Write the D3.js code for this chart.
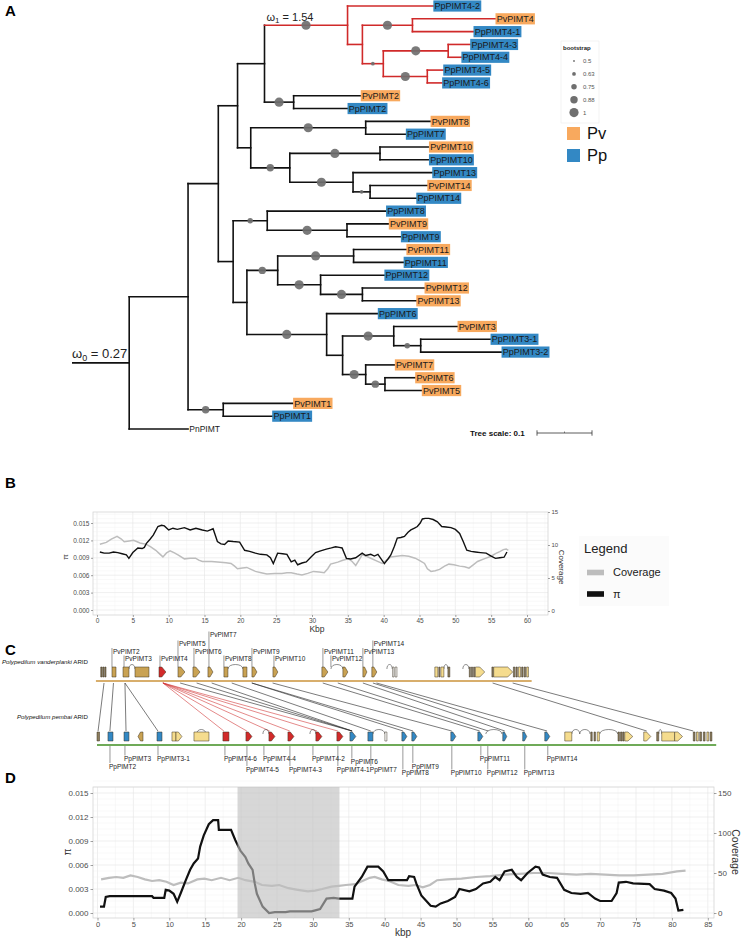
<!DOCTYPE html>
<html><head><meta charset="utf-8"><title>PIMT figure</title>
<script src="https://cdn.jsdelivr.net/npm/d3@7/dist/d3.min.js"></script>
<style>body{margin:0;background:#fff}</style></head>
<body><script>
// ================= DATA =================
// Panel A: phylogeny (branch lengths in substitutions/site, internal labels = bootstrap)
const cladeRed = "(PpPIMT4-2:0.156,((PvPIMT4:0.151,PpPIMT4-1:0.111)1:0.091,((PpPIMT4-3:0.040,PpPIMT4-4:0.024)1:0.118,(PpPIMT4-5:0.029,PpPIMT4-6:0.027)1:0.080)0.63:0.038):0.027)1";
const clade2 = "(PvPIMT2:0.122,PpPIMT2:0.098)1";
const clade7_14 = "((PvPIMT8:0.118,PpPIMT7:0.073)1:0.209,((PvPIMT10:0.089,PpPIMT10:0.089)1:0.164,(PpPIMT13:0.144,(PvPIMT14:0.104,PpPIMT14:0.084)0.63:0.031)1:0.115)0.88:0.071)";
const clade8_9 = "(PpPIMT8:0.216,(PvPIMT9:0.076,PpPIMT9:0.098)1:0.145)0.75";
const clade11_13 = "((PvPIMT11:0.096,PpPIMT11:0.091)1:0.138,(PpPIMT12:0.116,(PvPIMT12:0.113,PvPIMT13:0.098)1:0.076)1:0.078)0.88";
const clade3_6 = "(PpPIMT6:0.093,((PvPIMT3:0.116,(PpPIMT3-1:0.127,PpPIMT3-2:0.147)0.75:0.049)1:0.093,(PvPIMT7:0.053,(PvPIMT6:0.055,PvPIMT5:0.067)0.88:0.035)1:0.042):0.029)1";
const clade1 = "(PvPIMT1:0.127,PpPIMT1:0.089)0.88";
const treeNewick = `(((((${cladeRed}:0.151,${clade2}:0.053):0.049,${clade7_14}:0.024):0.035,(${clade8_9}:0.062,(${clade11_13}:0.056,${clade3_6}:0.145):0.025):0.027):0.055,${clade1}:0.064):0.107,PnPIMT:0.107):0.104;`;
const bootstrapLegend = [0.5, 0.63, 0.75, 0.88, 1];
const speciesLegend = ["Pv", "Pp"];
const omega1 = "1.54", omega0 = "0.27";

// Panel B: Pv ARID (kbp, pi) and (kbp, coverage)
const piB = [[0.4,0.0100],[1.0,0.0098],[1.7,0.0098],[2.3,0.0100],[2.9,0.0099],[3.5,0.0097],[4.1,0.0095],[4.45,0.0089],[5.0,0.0099],[5.7,0.0107],[6.3,0.0106],[6.6,0.0108],[6.9,0.0115],[7.4,0.0122],[7.85,0.0129],[8.5,0.0144],[9.0,0.0146],[9.4,0.0145],[10.0,0.0138],[10.6,0.0141],[11.2,0.0139],[12.2,0.0142],[13.0,0.0138],[13.8,0.0141],[14.7,0.0138],[15.4,0.0136],[16.2,0.0140],[16.8,0.0118],[17.3,0.0114],[17.8,0.0113],[18.3,0.0119],[19.0,0.0118],[19.9,0.0117],[20.6,0.0103],[21.3,0.0101],[22.1,0.0098],[22.8,0.0096],[23.7,0.0095],[24.2,0.0090],[24.6,0.0080],[25.2,0.0098],[25.9,0.0097],[26.5,0.0096],[27.1,0.0083],[27.6,0.0086],[28.0,0.0078],[28.6,0.0081],[29.2,0.0083],[29.9,0.0092],[30.5,0.0099],[31.2,0.0102],[32.0,0.0105],[32.7,0.0107],[33.3,0.0109],[33.8,0.0108],[34.2,0.0107],[34.8,0.0089],[35.4,0.0088],[36.1,0.0090],[37.0,0.0098],[37.5,0.0094],[38.2,0.0096],[38.7,0.0093],[39.2,0.0096],[40.1,0.0080],[40.6,0.0088],[41.0,0.0095],[41.5,0.0110],[41.9,0.0124],[42.4,0.0125],[42.9,0.0127],[43.4,0.0134],[43.8,0.0138],[44.3,0.0141],[44.7,0.0144],[45.1,0.0150],[45.4,0.0157],[45.8,0.0158],[46.3,0.0158],[46.9,0.0156],[47.5,0.0152],[48.1,0.0144],[48.7,0.0143],[49.4,0.0142],[50.0,0.0139],[50.6,0.0132],[51.1,0.0118],[51.6,0.0103],[52.2,0.0101],[52.8,0.0100],[53.5,0.0099],[54.3,0.0098],[55.0,0.0093],[55.6,0.0089],[56.2,0.0090],[56.8,0.0091],[57.2,0.0100]];
const covB = [[0.4,10.1],[1.3,10.4],[2.0,10.9],[2.8,11.3],[3.4,10.9],[3.8,10.5],[4.5,10.6],[5.1,10.7],[5.6,10.5],[6.0,10.3],[6.9,10.1],[7.5,9.7],[8.2,9.2],[8.7,8.7],[9.2,8.2],[9.7,8.8],[10.2,9.1],[10.8,8.8],[11.3,8.5],[12.2,7.9],[13.0,8.0],[13.75,8.0],[14.2,7.7],[14.7,7.5],[16.0,7.5],[17.2,7.4],[18.0,7.3],[18.7,7.2],[19.2,6.8],[19.6,6.4],[20.3,6.5],[20.9,6.6],[21.5,6.3],[22.1,6.0],[22.9,5.8],[23.7,5.6],[24.8,5.7],[25.8,5.7],[26.5,5.8],[27.1,5.8],[27.9,5.6],[28.6,5.45],[29.4,5.7],[30.2,6.0],[31.0,5.9],[31.7,5.8],[32.2,6.4],[32.6,7.1],[33.6,7.4],[34.3,7.7],[35.1,7.9],[35.6,7.5],[36.1,6.9],[36.6,7.8],[37.0,8.5],[37.6,8.3],[38.2,8.0],[39.0,7.6],[39.8,7.2],[40.4,7.7],[41.0,8.2],[41.8,8.3],[42.6,8.4],[43.5,8.3],[44.4,8.0],[45.1,7.6],[45.7,7.2],[46.1,6.4],[46.6,6.0],[47.2,6.1],[47.8,6.3],[48.5,6.8],[49.1,7.1],[49.8,7.0],[50.6,6.8],[51.3,6.7],[51.9,6.5],[52.5,7.0],[53.1,7.5],[54.0,7.9],[55.0,8.3],[55.6,8.7],[56.2,9.0],[56.7,9.3],[57.1,9.4],[57.4,9.2]];
const piTicks = [0, 0.003, 0.006, 0.009, 0.012, 0.015];
const covTicksB = [0, 5, 10, 15];
const kbpTicksB = [0,5,10,15,20,25,30,35,40,45,50,55,60];

// Panel C: gene models, kbp along each ARID  [start, end, shape, class]
const topGenes = [[0.52,0.70,"box","dark"],[0.80,0.98,"box","dark"],[1.08,1.26,"box","dark"],[2.09,2.65,"box","pimt"],[3.63,4.46,"box","pimt"],[5.30,7.25,"box","pimt"],[8.65,9.62,"arrow","red"],[11.30,12.27,"arrow","pimt"],[13.39,14.37,"arrow","pimt"],[15.48,16.18,"arrow","pimt"],[17.71,18.27,"box","pimt"],[20.36,20.92,"box","pimt"],[21.62,22.32,"arrow","pimt"],[24.55,25.24,"arrow","pimt"],[31.38,32.22,"arrow","pimt"],[34.31,35.01,"arrow","pimt"],[37.10,37.66,"arrow","pimt"],[38.35,39.05,"arrow","pimt"],[41.25,41.45,"box","white"],[41.6,41.85,"box","white"],[47.14,47.56,"box","other"],[47.70,47.84,"box","dark"],[47.98,48.40,"box","other"],[48.96,49.23,"box","dark"],[51.95,52.10,"box","dark"],[52.25,52.40,"box","dark"],[52.55,52.70,"box","dark"],[52.80,54.10,"arrow","other"],[55.10,55.30,"box","dark"],[55.35,58.00,"arrow","other"],[58.10,58.30,"box","dark"],[58.45,58.65,"box","dark"],[58.80,59.10,"box","other"],[59.25,59.45,"box","dark"],[59.60,59.80,"box","dark"],[59.95,60.20,"box","other"]];
const topArcs = [[4.46,5.30],[18.27,20.36],[32.64,34.31],[40.45,41.2],[48.40,48.96],[51.05,51.9]];
const botGenes = [[0.0,0.35,"box","dark"],[1.53,2.23,"box","pimt"],[3.77,4.46,"box","pimt"],[5.72,6.42,"larrow","tan"],[8.37,9.07,"box","pimt"],[10.46,11.02,"box","other"],[11.02,11.85,"arrow","other"],[13.53,15.62,"box","other"],[17.57,18.41,"box","red"],[20.78,21.62,"arrow","red"],[23.99,24.83,"arrow","red"],[26.64,27.48,"arrow","red"],[30.54,31.38,"arrow","red"],[33.47,34.31,"arrow","red"],[35.29,36.12,"arrow","pimt"],[37.80,38.50,"box","pimt"],[40.17,40.45,"box","white"],[42.54,43.24,"arrow","pimt"],[43.93,44.63,"arrow","pimt"],[49.37,50.07,"arrow","pimt"],[53.14,53.84,"arrow","pimt"],[56.62,57.18,"arrow","pimt"],[59.40,59.97,"arrow","pimt"],[62.48,63.18,"arrow","pimt"],[65.27,66.25,"box","other"],[68.9,69.1,"box","dark"],[69.35,69.55,"box","dark"],[69.8,70.1,"box","other"],[72.7,72.9,"box","dark"],[73.05,73.25,"box","dark"],[73.35,73.55,"box","dark"],[73.64,74.76,"arrow","other"],[76.29,77.27,"arrow","other"],[78.10,78.38,"box","dark"],[78.80,80.60,"box","other"],[80.60,81.70,"arrow","other"],[83.2,83.45,"box","dark"],[83.65,83.9,"box","other"],[84.1,84.35,"box","dark"],[84.6,84.85,"box","dark"],[85.1,85.35,"box","other"],[85.55,85.8,"box","dark"]];
const botArcs = [[13.9,15.2],[23.15,23.99],[29.71,30.54],[38.5,40.17],[54.25,56.5],[66.25,67.36],[67.36,68.8],[70.15,72.66],[78.38,78.8]];
// [Pv kbp, Pp kbp, expanded-family flag]
const synteny = [[0.98,0.15,0],[2.3,1.8,0],[3.9,4.05,0],[3.9,8.5,0],[9.2,17.7,1],[9.2,20.9,1],[9.2,24.1,1],[9.2,26.9,1],[9.2,30.7,1],[9.2,33.6,1],[11.6,35.6,0],[13.9,35.6,0],[16.0,35.6,0],[18.8,38.2,0],[21.6,42.7,0],[21.6,44.1,0],[24.5,49.5,0],[31.5,53.4,0],[33.6,54.6,0],[37.1,56.9,0],[38.5,59.7,0],[39.0,62.8,0],[55.2,76.7,0],[58.0,83.2,0]];
// [label, anchor kbp, stacking level]
const topLabels = [["PvPIMT2",2.09,1],["PvPIMT3",3.77,0],["PvPIMT4",8.79,0],["PvPIMT5",11.3,2],["PvPIMT6",13.53,1],["PvPIMT7",15.62,3],["PvPIMT8",17.71,0],["PvPIMT9",21.62,1],["PvPIMT10",24.69,0],["PvPIMT11",31.52,1],["PvPIMT12",32.64,0],["PvPIMT13",37.1,1],["PvPIMT14",38.49,2]];
const botLabels = [["PpPIMT2",1.81,2],["PpPIMT3",3.9,0],["PpPIMT3-1",8.51,0],["PpPIMT4-6",17.85,0],["PpPIMT4-5",20.92,3],["PpPIMT4-4",23.29,0],["PpPIMT4-3",26.92,3],["PpPIMT4-2",30.13,0],["PpPIMT4-1",33.61,3],["PpPIMT6",35.56,1],["PpPIMT7",38.21,3],["PpPIMT8",42.68,4],["PpPIMT9",44.07,2],["PpPIMT10",49.51,4],["PpPIMT11",53.56,0],["PpPIMT12",54.53,4],["PpPIMT13",59.69,4],["PpPIMT14",62.9,0]];

// Panel D: Pp ARID
const piD = [[0.35,0.0008],[0.9,0.0008],[1.15,0.0020],[1.7,0.0021],[7.6,0.0021],[7.8,0.0019],[9.3,0.0019],[9.5,0.0029],[10.0,0.0028],[10.6,0.0024],[11.1,0.0014],[11.6,0.0025],[12.3,0.0041],[12.9,0.0054],[13.4,0.0062],[14.0,0.0068],[14.3,0.0083],[14.8,0.0097],[15.5,0.0111],[16.1,0.0116],[16.8,0.0116],[16.9,0.0104],[18.6,0.0104],[19.2,0.0091],[19.9,0.0078],[20.6,0.0070],[21.0,0.0062],[21.6,0.0054],[21.9,0.0037],[22.2,0.0024],[23.0,0.0008],[23.9,0.0000],[24.7,0.0001],[26.2,0.0001],[26.8,0.0002],[29.8,0.0002],[30.2,0.0003],[31.0,0.0005],[31.9,0.0018],[32.9,0.0019],[33.6,0.0018],[35.5,0.0018],[35.8,0.0033],[36.8,0.0045],[37.6,0.0058],[39.1,0.0058],[39.8,0.0052],[40.5,0.0041],[43.1,0.0041],[43.4,0.0046],[44.1,0.0045],[44.4,0.0037],[45.1,0.0022],[45.8,0.0015],[46.4,0.0009],[47.1,0.0008],[47.8,0.0012],[48.8,0.0015],[49.8,0.0020],[50.4,0.0030],[51.8,0.0027],[52.7,0.0030],[53.7,0.0037],[54.7,0.0039],[55.4,0.0045],[56.0,0.0041],[56.7,0.0052],[57.7,0.0054],[58.4,0.0045],[59.0,0.0041],[59.9,0.0050],[61.0,0.0058],[61.5,0.0057],[62.0,0.0048],[63.0,0.0045],[64.0,0.0044],[65.0,0.0029],[66.0,0.0025],[67.3,0.0024],[68.3,0.0025],[69.3,0.0018],[70.0,0.0015],[71.6,0.0015],[72.3,0.0025],[72.6,0.0038],[73.6,0.0039],[74.6,0.0037],[76.9,0.0036],[77.6,0.0030],[78.9,0.0028],[79.9,0.0025],[80.5,0.0018],[80.9,0.0003],[81.6,0.0004]];
const covD = [[0.5,42],[1.6,44],[2.6,45],[3.6,44],[4.6,47],[5.6,45],[6.6,42],[7.6,40],[8.6,41],[9.6,39],[10.6,35],[11.6,38],[12.6,37],[13.9,42],[14.9,43],[15.9,41],[17.2,44],[18.4,41],[19.6,44],[20.6,41],[21.9,39],[22.9,35],[24.3,34],[25.3,35],[26.6,31],[27.9,29],[29.3,27],[30.3,28],[31.3,30],[32.6,33],[33.6,34],[34.6,35],[35.9,36],[36.9,40],[37.9,44],[38.6,45],[39.6,42],[40.6,40],[41.9,35],[43.3,34],[44.3,35],[45.3,32],[46.3,35],[47.3,41],[48.7,42],[50.7,43],[52.7,45],[54.7,46],[56.7,48],[58.7,49],[60.7,50],[62.7,50],[64.7,49],[66.7,48],[68.7,49],[70.7,48],[72.7,47],[74.7,47],[76.7,48],[78.7,49],[80.7,52],[81.9,53]];
const shadeD = [19.5, 33.7];
const covTicksD = [0, 50, 100, 150];
const kbpTicksD = [0,5,10,15,20,25,30,35,40,45,50,55,60,65,70,75,80,85];

// ================= DRAWING =================
const W = 743, H = 939;
const FONT = '"Liberation Sans", Arial, Helvetica, sans-serif';
const NARROW = '"Liberation Sans Narrow", "Liberation Sans", Arial, sans-serif';
const ORANGE = "#F8A95E", BLUE = "#3388C4";
const svg = d3.select("body").append("svg").attr("width", W).attr("height", H)
  .style("font-family", FONT);

[["A",5,16],["B",5,488],["C",5,655],["D",5,783]].forEach(([t,x,y]) =>
  svg.append("text").attr("x",x).attr("y",y).attr("font-size",15).attr("font-weight","bold").text(t));

// ---------- Panel A ----------
function parseNewick(s){
  let i = 0;
  function node(){
    const n = {};
    if (s[i] === "("){
      i++; n.children = [];
      while (true){
        n.children.push(node());
        if (s[i] === ","){ i++; } else { i++; break; }
      }
    }
    let name = "";
    while (i < s.length && ",():;".indexOf(s[i]) < 0) name += s[i++];
    n.name = name;
    if (s[i] === ":"){ i++; let l = ""; while (i < s.length && ",();".indexOf(s[i]) < 0) l += s[i++]; n.length = +l; }
    return n;
  }
  return node();
}
const root = d3.hierarchy(parseNewick(treeNewick));
const brX = d3.scaleLinear().domain([0, 0.1]).range([72, 127]);
root.eachBefore(d => { d.len = (d.parent ? d.parent.len : 0) + (d.data.length || 0); d.px = brX(d.len); });
const leaves = root.leaves();
const tipY = d3.scaleLinear().domain([0, leaves.length - 1]).range([6, 429]);
leaves.forEach((d, i) => d.py = tipY(i));
root.eachAfter(d => { if (d.children) d.py = (d.children[0].py + d.children[d.children.length - 1].py) / 2; });
const redRoot = leaves.find(d => d.data.name === "PpPIMT4-2").parent;
const redSet = new Set(redRoot.descendants());

const gT = svg.append("g");
const lineCol = d => redSet.has(d) ? "#D02A2A" : "#111";
gT.append("line").attr("x1", brX(0)).attr("x2", root.px).attr("y1", root.py).attr("y2", root.py)
  .attr("stroke", "#111").attr("stroke-width", 1.6);
root.descendants().forEach(d => {
  if (d.parent) gT.append("line").attr("x1", d.parent.px).attr("x2", d.px).attr("y1", d.py).attr("y2", d.py)
    .attr("stroke", lineCol(d)).attr("stroke-width", 1.6).attr("stroke-linecap", "square");
  if (d.children) gT.append("line").attr("x1", d.px).attr("x2", d.px)
    .attr("y1", d.children[0].py).attr("y2", d.children[d.children.length - 1].py)
    .attr("stroke", lineCol(d)).attr("stroke-width", 1.6).attr("stroke-linecap", "square");
});
const rBS = d3.scaleLinear().domain([0.5, 1]).range([0.9, 4.6]);
root.descendants().filter(d => d.children && d.parent && d.data.name !== "" && +d.data.name >= 0.5).forEach(d => {
  gT.append("circle").attr("cx", (d.parent.px + d.px) / 2).attr("cy", d.py).attr("r", rBS(+d.data.name))
    .attr("fill", "#6f6f6f").attr("fill-opacity", 0.92);
});
leaves.forEach(d => {
  const nm = d.data.name;
  const g = gT.append("g");
  const t = g.append("text").attr("x", d.px + 1.2).attr("y", d.py).attr("dy", "0.35em")
    .attr("font-size", nm === "PnPIMT" ? 8.5 : 9).attr("fill", "#1a1a1a").text(nm);
  const w = t.node().getComputedTextLength();
  if (nm.startsWith("Pv") || nm.startsWith("Pp")) {
    g.insert("rect", "text").attr("x", d.px).attr("y", d.py - 5.6).attr("width", w + 2.4).attr("height", 11.2)
      .attr("fill", nm.startsWith("Pv") ? ORANGE : BLUE);
  }
});
const redTop = redRoot.parent;
const om1 = gT.append("text").attr("x", redTop.px + 2).attr("y", redRoot.py - 4.5).attr("font-size", 11).attr("fill", "#222");
om1.append("tspan").text("ω");
om1.append("tspan").attr("font-size", 8).attr("dy", 2.5).text("1");
om1.append("tspan").attr("dy", -2.5).text(" = " + omega1);
const om0 = gT.append("text").attr("x", brX(0)).attr("y", root.py - 4.5).attr("font-size", 13).attr("fill", "#222");
om0.append("tspan").text("ω");
om0.append("tspan").attr("font-size", 9).attr("dy", 2.5).text("0");
om0.append("tspan").attr("dy", -2.5).text(" = " + omega0);

const gL = svg.append("g");
gL.append("rect").attr("x", 561).attr("y", 41).attr("width", 38).attr("height", 82).attr("fill", "#fff").attr("stroke", "#ececec").attr("stroke-width", 0.6);
gL.append("text").attr("x", 563).attr("y", 50).attr("font-size", 6).attr("font-weight", "bold").attr("fill", "#222").text("bootstrap");
bootstrapLegend.forEach((v, i) => {
  const y = 61 + i * 12.9;
  gL.append("circle").attr("cx", 574).attr("cy", y).attr("r", rBS(v)).attr("fill", "#6f6f6f");
  gL.append("text").attr("x", 583).attr("y", y).attr("dy", "0.35em").attr("font-size", 6).attr("fill", "#555").text(v);
});
speciesLegend.forEach((s, i) => {
  const y = 127 + i * 22;
  gL.append("rect").attr("x", 567).attr("y", y).attr("width", 13).attr("height", 13).attr("fill", s === "Pv" ? ORANGE : BLUE);
  gL.append("text").attr("x", 587).attr("y", y + 12).attr("font-size", 16.5).attr("fill", "#111").text(s);
});
const sb = gL.append("g");
sb.append("text").attr("x", 470).attr("y", 436).attr("font-size", 8).attr("font-weight", "bold").attr("fill", "#111").text("Tree scale: 0.1");
const sb0 = 537, sb1 = sb0 + (brX(0.1) - brX(0));
sb.append("line").attr("x1", sb0).attr("x2", sb1).attr("y1", 433).attr("y2", 433).attr("stroke", "#333").attr("stroke-width", 0.8);
[sb0, sb1].forEach(x => sb.append("line").attr("x1", x).attr("x2", x).attr("y1", 430.3).attr("y2", 435.7).attr("stroke", "#333").attr("stroke-width", 0.8));
sb.append("line").attr("x1", (sb0 + sb1) / 2).attr("x2", (sb0 + sb1) / 2).attr("y1", 431.5).attr("y2", 433).attr("stroke", "#333").attr("stroke-width", 0.6);

// ---------- helpers ----------
function grid(g, x, y, box, xs, ys){
  xs.forEach(([v, major]) => g.append("line").attr("x1", x(v)).attr("x2", x(v)).attr("y1", box.t).attr("y2", box.b)
    .attr("stroke", major ? "#e4e4e4" : "#f1f1f1").attr("stroke-width", major ? 0.6 : 0.45));
  ys.forEach(([v, major]) => g.append("line").attr("x1", box.l).attr("x2", box.r).attr("y1", y(v)).attr("y2", y(v))
    .attr("stroke", major ? "#e4e4e4" : "#f1f1f1").attr("stroke-width", major ? 0.6 : 0.45));
}
function styleAxis(g, fs, fam){
  g.select(".domain").remove();
  g.selectAll(".tick line").attr("stroke", "#444").attr("stroke-width", 0.5);
  g.selectAll(".tick text").attr("font-family", fam).attr("font-size", fs).attr("fill", "#4d4d4d");
}

// ---------- Panel B ----------
const xB = d3.scaleLinear().domain([0, 60]).range([97, 527]);
const boxB = { l: 93, r: 548, t: 512, b: 615 };
const yPiB = d3.scaleLinear().domain([0, 0.015]).range([610, 523]);
const yCovB = d3.scaleLinear().domain([0, 15]).range([611, 512]);
const gB = svg.append("g");
grid(gB, xB, yPiB, boxB,
  d3.range(0, 62.6, 2.5).map(v => [v, v % 5 === 0]),
  d3.range(0, 0.0166, 0.00075).map((v, i) => [v, i % 4 === 0]));
gB.append("rect").attr("x", boxB.l).attr("y", boxB.t).attr("width", boxB.r - boxB.l).attr("height", boxB.b - boxB.t)
  .attr("fill", "none").attr("stroke", "#cfcfcf").attr("stroke-width", 0.7);
gB.append("path").datum(covB).attr("d", d3.line().x(d => xB(d[0])).y(d => yCovB(d[1])))
  .attr("fill", "none").attr("stroke", "#bdbdbd").attr("stroke-width", 1.5);
gB.append("path").datum(piB).attr("d", d3.line().x(d => xB(d[0])).y(d => yPiB(d[1])))
  .attr("fill", "none").attr("stroke", "#111").attr("stroke-width", 1.4);
styleAxis(gB.append("g").attr("transform", `translate(${boxB.l},0)`)
  .call(d3.axisLeft(yPiB).tickValues(piTicks).tickFormat(d3.format(".3f")).tickSize(2).tickPadding(1.5)), 6.5, NARROW);
styleAxis(gB.append("g").attr("transform", `translate(0,${boxB.b})`)
  .call(d3.axisBottom(xB).tickValues(kbpTicksB).tickSize(2).tickPadding(1.5)), 6.5, NARROW);
styleAxis(gB.append("g").attr("transform", `translate(${boxB.r},0)`)
  .call(d3.axisRight(yCovB).tickValues(covTicksB).tickSize(2).tickPadding(1.5)), 6, NARROW);
gB.append("text").attr("x", 317).attr("y", 632).attr("text-anchor", "middle").attr("font-size", 8.5).attr("fill", "#333").text("Kbp");
gB.append("text").attr("transform", "translate(68,557) rotate(-90)").attr("text-anchor", "middle").attr("font-size", 8).attr("fill", "#333").text("π");
gB.append("text").attr("transform", "translate(559,567) rotate(90)").attr("text-anchor", "middle").attr("font-size", 8).attr("fill", "#333").text("Coverage");
gB.append("rect").attr("x", 579).attr("y", 536).attr("width", 90).attr("height", 70).attr("fill", "#fbfbfb");
gB.append("text").attr("x", 584).attr("y", 553).attr("font-size", 13).attr("fill", "#222").text("Legend");
[["Coverage", "#bdbdbd", 572.5], ["π", "#111", 594]].forEach(([t, c, y]) => {
  gB.append("rect").attr("x", 587).attr("y", y - 2.8).attr("width", 17).attr("height", 5.6).attr("fill", c);
  gB.append("text").attr("x", 613).attr("y", y).attr("dy", "0.35em").attr("font-size", 11).attr("fill", "#222").text(t);
});

// ---------- Panel C ----------
const xC = xB;
const gC = svg.append("g");
const fillsTop = { pimt: "#C9A253", red: "#D22A2A", other: "#F5DC8E", dark: "#8C7D5C", white: "#fff", tan: "#C9A253" };
const fillsBot = { pimt: BLUE, red: "#D22A2A", other: "#F5DC8E", dark: "#8C7D5C", white: "#fff", tan: "#C9A253" };
gC.append("text").attr("x", 88).attr("y", 664).attr("text-anchor", "end").attr("font-size", 6.2).attr("fill", "#111")
  .attr("textLength", 86).attr("lengthAdjust", "spacingAndGlyphs")
  .html('<tspan font-style="italic">Polypedilum vanderplanki</tspan> ARID');
gC.append("text").attr("x", 88).attr("y", 719).attr("text-anchor", "end").attr("font-size", 6.2).attr("fill", "#111")
  .attr("textLength", 71).attr("lengthAdjust", "spacingAndGlyphs")
  .html('<tspan font-style="italic">Polypedilum pembai</tspan> ARID');
gC.append("line").attr("x1", xC(-0.15)).attr("x2", xC(60.65)).attr("y1", 681).attr("y2", 681).attr("stroke", "#D8AE6C").attr("stroke-width", 2);
gC.append("line").attr("x1", xC(0)).attr("x2", xC(86.4)).attr("y1", 745).attr("y2", 745).attr("stroke", "#6FAA58").attr("stroke-width", 2);
synteny.forEach(([a, b, r]) => gC.append("line").attr("x1", xC(a)).attr("y1", 683).attr("x2", xC(b)).attr("y2", 731)
  .attr("stroke", r ? "#D23A3A" : "#222").attr("stroke-width", 0.6));
function drawGenes(genes, arcs, top, h, fills){
  const g = gC.append("g");
  arcs.forEach(([s, e]) => {
    const a = xC(s), b = xC(e), t = top + 2;
    g.append("path").attr("d", `M${a},${t}C${a},${t - 6} ${b},${t - 6} ${b},${t}`).attr("fill", "none").attr("stroke", "#444").attr("stroke-width", 0.6);
  });
  genes.forEach(([s, e, shape, cls]) => {
    const a = xC(s), b = xC(e), t = top, bt = top + h, m = (t + bt) / 2, w = b - a;
    let d;
    if (shape === "arrow") { const hd = Math.min(w * 0.6, 5); d = `M${a},${t}L${b - hd},${t}L${b},${m}L${b - hd},${bt}L${a},${bt}Z`; }
    else if (shape === "larrow") { const hd = w * 0.5; d = `M${b},${t}L${a + hd},${t}L${a},${m}L${a + hd},${bt}L${b},${bt}Z`; }
    else d = `M${a},${t}H${b}V${bt}H${a}Z`;
    g.append("path").attr("d", d).attr("fill", fills[cls]).attr("stroke", "#3a3020").attr("stroke-width", 0.5);
  });
}
drawGenes(topGenes, topArcs, 667, 10, fillsTop);
drawGenes(botGenes, botArcs, 732, 9, fillsBot);
const topLv = [659, 651.5, 644, 635], botLv = [759, 762, 766.5, 769.5, 773];
topLabels.forEach(([n, k, lv]) => {
  const x = xC(k), y = topLv[lv];
  gC.append("line").attr("x1", x).attr("x2", x).attr("y1", 667).attr("y2", y - 3.5).attr("stroke", "#333").attr("stroke-width", 0.5);
  gC.append("text").attr("x", x + 1).attr("y", y).attr("dy", "0.35em").attr("font-size", 6.5).attr("fill", "#222").text(n);
});
botLabels.forEach(([n, k, lv]) => {
  const x = xC(k), y = botLv[lv];
  gC.append("line").attr("x1", x).attr("x2", x).attr("y1", 746).attr("y2", y - 3.5).attr("stroke", "#333").attr("stroke-width", 0.5);
  gC.append("text").attr("x", x - 1).attr("y", y).attr("dy", "0.35em").attr("font-size", 6.5).attr("fill", "#222").text(n);
});

// ---------- Panel D ----------
const xD = d3.scaleLinear().domain([0, 85]).range([97.5, 707.8]);
const boxD = { l: 93, r: 714, t: 787, b: 918 };
const yPiD = d3.scaleLinear().domain([0, 0.015]).range([913, 793]);
const yCovD = d3.scaleLinear().domain([0, 150]).range([913, 793]);
const gD = svg.append("g");
grid(gD, xD, yPiD, boxD,
  d3.range(0, 86.3, 2.5).map(v => [v, v % 5 === 0]),
  d3.range(0, 0.0166, 0.00075).map((v, i) => [v, i % 4 === 0]));
gD.append("rect").attr("x", boxD.l).attr("y", boxD.t).attr("width", boxD.r - boxD.l).attr("height", boxD.b - boxD.t)
  .attr("fill", "none").attr("stroke", "#cfcfcf").attr("stroke-width", 0.7);
gD.append("path").datum(covD).attr("d", d3.line().x(d => xD(d[0])).y(d => yCovD(d[1])))
  .attr("fill", "none").attr("stroke", "#bdbdbd").attr("stroke-width", 2.2);
gD.append("path").datum(piD).attr("d", d3.line().x(d => xD(d[0])).y(d => yPiD(d[1])))
  .attr("fill", "none").attr("stroke", "#111").attr("stroke-width", 2.2);
gD.append("rect").attr("x", xD(shadeD[0])).attr("y", boxD.t).attr("width", xD(shadeD[1]) - xD(shadeD[0])).attr("height", boxD.b - boxD.t)
  .attr("fill", "#bebebe").attr("fill-opacity", 0.62);
styleAxis(gD.append("g").attr("transform", `translate(${boxD.l},0)`)
  .call(d3.axisLeft(yPiD).tickValues(piTicks).tickFormat(d3.format(".3f")).tickSize(2.5).tickPadding(2)), 8, NARROW);
styleAxis(gD.append("g").attr("transform", `translate(0,${boxD.b})`)
  .call(d3.axisBottom(xD).tickValues(kbpTicksD).tickSize(2.5).tickPadding(1.5)), 7.5, NARROW);
styleAxis(gD.append("g").attr("transform", `translate(${boxD.r},0)`)
  .call(d3.axisRight(yCovD).tickValues(covTicksD).tickSize(2.5).tickPadding(1.5)), 8, NARROW);
gD.append("text").attr("x", 403).attr("y", 936).attr("text-anchor", "middle").attr("font-size", 10).attr("fill", "#333").text("kbp");
gD.append("text").attr("transform", "translate(71,852) rotate(-90)").attr("text-anchor", "middle").attr("font-size", 10).attr("fill", "#333").text("π");
gD.append("text").attr("transform", "translate(732,852) rotate(90)").attr("text-anchor", "middle").attr("font-size", 10.5).attr("fill", "#333").text("Coverage");
</script></body></html>
